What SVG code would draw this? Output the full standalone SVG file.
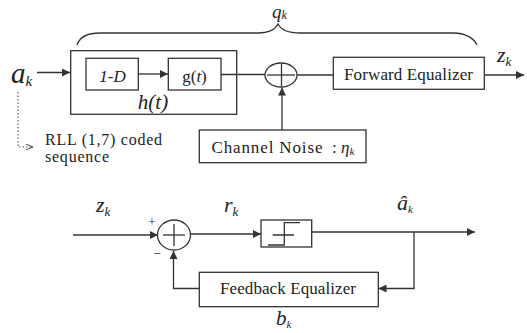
<svg xmlns="http://www.w3.org/2000/svg" width="527" height="333" viewBox="0 0 527 333">
<style>
.ln{fill:none;stroke:#333;stroke-width:1.3}
.bx{fill:none;stroke:#333;stroke-width:1.3}
.t{font-family:"Liberation Serif","Times New Roman",serif;fill:#222}
.i{font-style:italic}
</style>
<defs>
<marker id="ah" viewBox="0 0 10 10" refX="10" refY="5" markerWidth="8" markerHeight="8" markerUnits="userSpaceOnUse" orient="auto">
<path d="M0,0 L10,5 L0,10 z" fill="#333"/>
</marker>
<marker id="oa" viewBox="0 0 10 10" refX="10" refY="5" markerWidth="7" markerHeight="7" markerUnits="userSpaceOnUse" orient="auto">
<path d="M0,1 L10,5 L0,9" fill="none" stroke="#444" stroke-width="1.4"/>
</marker>
</defs>
<rect width="527" height="333" fill="#fff"/>

<g id="connectors">
<line class="ln" x1="37" y1="72.5" x2="70" y2="72.5" marker-end="url(#ah)"/>
<line class="ln" x1="138.5" y1="74" x2="168" y2="74" marker-end="url(#ah)"/>
<line class="ln" x1="221" y1="74.5" x2="265" y2="74.5"/>
<line class="ln" x1="297" y1="75" x2="333" y2="75"/>
<line class="ln" x1="484.5" y1="75" x2="524" y2="75" marker-end="url(#ah)"/>
<line class="ln" x1="282" y1="130" x2="282" y2="87.5" marker-end="url(#ah)"/>
<path d="M18,92 L18,147 L33,147" fill="none" stroke="#555" stroke-width="1.1" stroke-dasharray="1.5,2" marker-end="url(#oa)"/>
<path class="ln" d="M77,45 C80,36 88,33 100,33 L258,33 C269,33 275,30 278,24 C281,30 288,33 300,33 L453,33 C465,33 474,38 477,45"/>
<line class="ln" x1="73" y1="235" x2="158" y2="235" marker-end="url(#ah)"/>
<line class="ln" x1="190" y1="234" x2="261" y2="234" marker-end="url(#ah)"/>
<line class="ln" x1="311.7" y1="232" x2="475" y2="232" marker-end="url(#ah)"/>
<path class="ln" d="M414,232 L414,288.5 L378.5,288.5" marker-end="url(#ah)"/>
<path class="ln" d="M199.3,288.5 L173.5,288.5 L173.5,251" marker-end="url(#ah)"/>
</g>

<g id="input">
<text class="t i" x="11" y="83" font-size="29">a<tspan font-size="15" dy="3">k</tspan></text>
<text class="t" x="45" y="145" font-size="16" textLength="117" lengthAdjust="spacing">RLL (1,7) coded</text>
<text class="t" x="45" y="162" font-size="16" textLength="64" lengthAdjust="spacing">sequence</text>
</g>

<g id="h-box">
<rect class="bx" x="70.7" y="50.7" width="166" height="63.6"/>
<text class="t i" x="153" y="109" font-size="21" text-anchor="middle">h(t)</text>
</g>

<g id="one-minus-D">
<rect class="bx" x="86" y="58.3" width="52.3" height="31.7"/>
<text class="t i" x="112.5" y="81.5" font-size="17" text-anchor="middle">1-D</text>
</g>

<g id="g-box">
<rect class="bx" x="168.3" y="58.3" width="52.7" height="31.7"/>
<text class="t" x="194.5" y="81.5" font-size="17" text-anchor="middle">g(<tspan font-style="italic">t</tspan>)</text>
</g>

<g id="sum-top">
<ellipse class="bx" cx="281" cy="75" rx="16" ry="12"/>
<line class="ln" x1="267" y1="75" x2="295" y2="75"/>
<line class="ln" x1="281.5" y1="64" x2="281.5" y2="86"/>
</g>

<g id="forward-equalizer">
<rect class="bx" x="333.3" y="57.3" width="151" height="32"/>
<text class="t" x="408.5" y="80" font-size="17" text-anchor="middle" textLength="129" lengthAdjust="spacing">Forward Equalizer</text>
</g>

<g id="channel-noise">
<rect class="bx" x="199.3" y="130" width="166.7" height="32.7"/>
<text class="t" x="211.5" y="153" font-size="17" textLength="111" lengthAdjust="spacing">Channel Noise</text>
<text class="t" x="332" y="153" font-size="17">:</text>
<text class="t i" x="341" y="153" font-size="17">η<tspan font-size="11" dy="2">k</tspan></text>
</g>

<g id="labels-top">
<text class="t i" x="272" y="18" font-size="19">q<tspan font-size="12" dy="1">k</tspan></text>
<text class="t i" x="497" y="62" font-size="22">z<tspan font-size="13" dy="4">k</tspan></text>
</g>

<g id="sum-bottom">
<ellipse class="bx" cx="174" cy="235" rx="16.5" ry="15"/>
<line class="ln" x1="163" y1="235" x2="185" y2="235"/>
<line class="ln" x1="174" y1="224" x2="174" y2="246"/>
<text class="t" x="152" y="226" font-size="13" text-anchor="middle">+</text>
<text class="t" x="157" y="258" font-size="13" text-anchor="middle">−</text>
</g>

<g id="decision">
<rect class="bx" x="261" y="220" width="50.7" height="27"/>
<path class="ln" d="M268,245 L284.3,245 L284.3,222.7 L300,222.7 M272.7,235 L294,235"/>
</g>

<g id="feedback-equalizer">
<rect class="bx" x="199.3" y="272.3" width="179" height="34.4"/>
<text class="t" x="288" y="294" font-size="17" text-anchor="middle" textLength="136" lengthAdjust="spacing">Feedback Equalizer</text>
</g>

<g id="labels-bottom">
<text class="t i" x="96" y="212" font-size="22">z<tspan font-size="13" dy="4">k</tspan></text>
<text class="t i" x="224" y="212" font-size="22">r<tspan font-size="13" dy="4">k</tspan></text>
<text class="t i" x="397" y="210" font-size="22">â<tspan font-size="11" dy="3">k</tspan></text>
<text class="t i" x="276" y="325" font-size="21">b<tspan font-size="11" dy="3">k</tspan></text>
</g>
</svg>
